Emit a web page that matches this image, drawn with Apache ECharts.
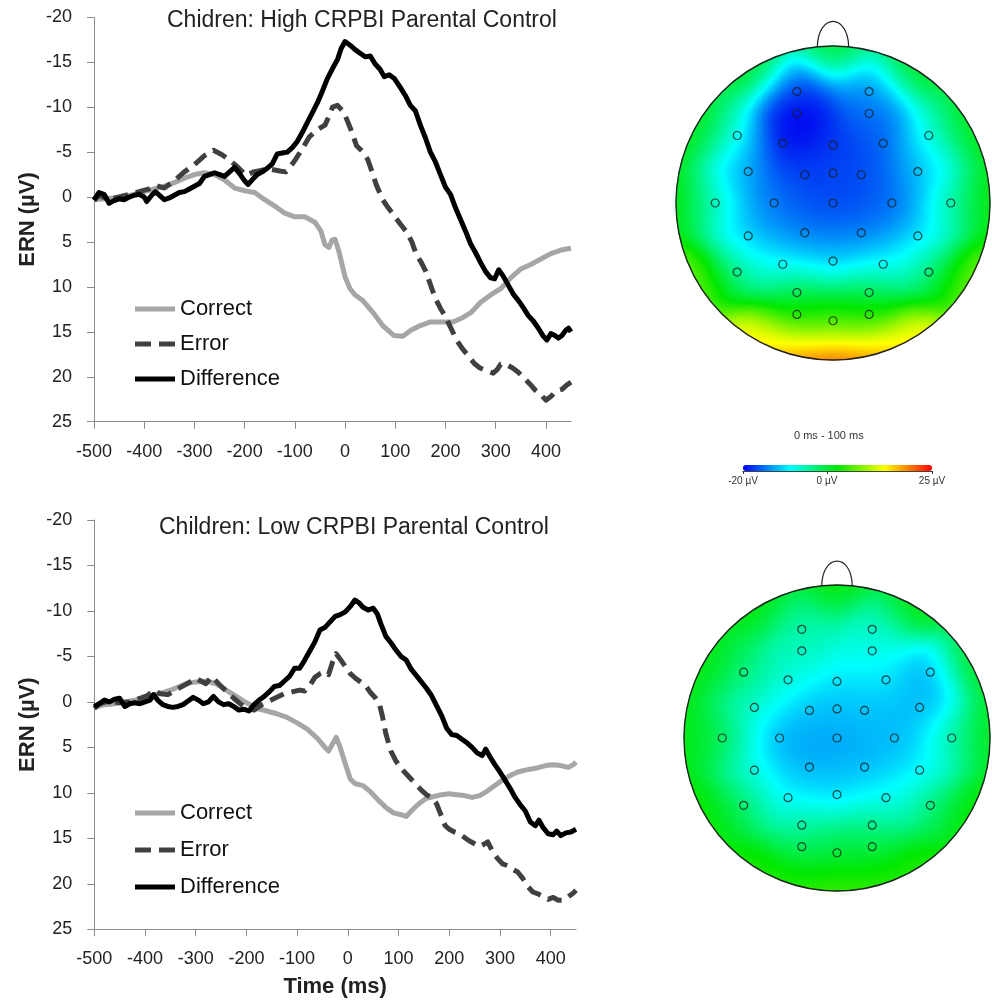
<!DOCTYPE html>
<html lang="en">
<head>
<meta charset="UTF-8">
<title>ERN - CRPBI parental control</title>
<script src="https://cdn.jsdelivr.net/npm/echarts@6/dist/echarts.min.js"></script>
<style>html,body{margin:0;padding:0;background:#fff;}</style>
</head>
<body>
<div id="main" style="width:992px;height:1003px;"></div>
<script>
var FONT = "'Liberation Sans', Arial, sans-serif";

// ---- waveforms: [time ms, amplitude uV] ----
var highCorrect = [[-500,0.3],[-480,0.2],[-460,0.1],[-440,0],[-420,-0.3],[-400,-0.6],[-380,-0.9],[-360,-1.2],[-340,-1.6],[-320,-2.1],[-300,-2.5],[-280,-2.7],[-260,-2.5],[-240,-1.9],[-220,-1.0],[-200,-0.7],[-180,-0.5],[-160,0.3],[-140,1.0],[-120,1.8],[-100,2.2],[-80,2.2],[-60,2.8],[-48,3.8],[-40,5.3],[-32,5.6],[-26,4.8],[-20,4.7],[-12,6.1],[0,8.9],[10,10.2],[20,10.9],[35,11.5],[55,12.8],[75,14.3],[97,15.4],[115,15.5],[132,14.8],[150,14.3],[170,13.9],[190,13.9],[215,13.9],[235,13.4],[250,12.9],[270,11.7],[290,10.9],[310,10.2],[330,9.0],[350,8.0],[370,7.5],[390,6.9],[410,6.3],[430,5.9],[450,5.7]];
var highError = [[-500,0.4],[-490,-0.2],[-470,0.3],[-450,0],[-430,-0.3],[-410,-0.6],[-390,-0.9],[-378,-1.3],[-360,-1.0],[-340,-1.8],[-320,-2.8],[-300,-3.6],[-280,-4.6],[-262,-5.2],[-245,-4.7],[-230,-4.1],[-215,-3.4],[-197,-2.4],[-182,-2.8],[-165,-3.0],[-150,-3.1],[-130,-2.9],[-118,-2.8],[-102,-3.9],[-86,-5.3],[-71,-6.7],[-55,-7.5],[-40,-8.0],[-32,-9.0],[-25,-10.0],[-15,-10.2],[-5,-9.6],[0,-9.1],[11,-7.6],[23,-5.7],[34,-5.1],[45,-4.2],[55,-2.6],[62,-1.4],[74,0.2],[86,1.2],[97,2.0],[110,3.0],[123,3.9],[133,5.0],[142,6.4],[152,7.3],[161,8.3],[171,9.9],[180,11.3],[190,12.4],[199,13.2],[211,14.6],[222,15.9],[234,16.9],[246,17.7],[257,18.5],[268,19.0],[280,19.3],[295,19.6],[303,19.2],[310,18.6],[320,18.6],[333,19.0],[345,19.5],[356,20.1],[368,20.8],[379,21.5],[390,22.0],[400,22.6],[410,22.2],[420,21.6],[432,21.4],[442,20.9],[450,20.6]];
var highDiff = [[-500,0.3],[-490,-0.5],[-480,-0.3],[-470,0.7],[-460,0.4],[-450,0.2],[-440,0.3],[-430,0],[-420,-0.2],[-410,-0.3],[-400,0],[-395,0.5],[-385,-0.2],[-378,-0.6],[-370,-0.2],[-360,0.3],[-350,0.1],[-340,-0.2],[-330,-0.5],[-320,-0.6],[-310,-0.9],[-300,-1.2],[-290,-1.5],[-280,-2.3],[-270,-2.5],[-260,-2.7],[-250,-2.5],[-240,-2.3],[-230,-2.8],[-220,-3.3],[-210,-2.6],[-200,-1.8],[-193,-1.4],[-185,-1.9],[-175,-2.5],[-165,-2.8],[-155,-3.2],[-145,-3.7],[-135,-4.8],[-125,-4.9],[-115,-5.0],[-105,-5.5],[-95,-6.2],[-85,-7.2],[-75,-8.3],[-65,-9.4],[-55,-10.5],[-45,-11.8],[-35,-13.2],[-25,-14.3],[-15,-15.3],[-8,-16.5],[0,-17.3],[10,-16.9],[20,-16.4],[30,-16.0],[40,-15.6],[50,-15.7],[60,-14.8],[70,-14.2],[78,-13.4],[88,-13.6],[98,-13.2],[110,-12.2],[120,-11.3],[130,-10.2],[140,-9.6],[150,-8.0],[160,-6.6],[170,-5.0],[180,-3.9],[190,-2.5],[200,-1.1],[210,-0.3],[220,1.2],[230,2.5],[240,3.8],[250,5.2],[260,6.2],[270,7.3],[280,8.3],[290,9.0],[298,9.1],[306,8.1],[315,8.8],[325,9.8],[335,10.8],[345,11.5],[355,12.3],[365,13.2],[375,13.8],[385,14.6],[395,15.5],[402,15.9],[410,15.2],[418,15.4],[425,15.7],[432,15.4],[440,14.8],[445,14.6],[450,15.0]];

var lowCorrect = [[-500,0.6],[-480,0.3],[-460,0.2],[-440,0],[-420,-0.2],[-400,-0.4],[-380,-0.8],[-360,-1.1],[-340,-1.5],[-320,-2.0],[-300,-2.2],[-280,-2.3],[-260,-2.0],[-240,-1.3],[-220,-0.6],[-200,0.1],[-180,0.7],[-160,1.0],[-140,1.3],[-120,1.7],[-100,2.3],[-80,3.0],[-60,4.0],[-45,5.0],[-38,5.4],[-30,4.6],[-23,3.9],[-15,5.0],[-5,6.8],[5,8.5],[15,9.0],[30,9.2],[45,9.9],[60,10.8],[75,11.6],[90,12.2],[105,12.4],[115,12.6],[125,12.0],[140,11.2],[155,10.6],[170,10.4],[185,10.2],[200,10.1],[215,10.2],[230,10.3],[245,10.5],[260,10.3],[275,9.8],[290,9.2],[305,8.6],[320,8.1],[335,7.7],[350,7.5],[370,7.3],[390,7.0],[405,6.9],[420,7.0],[435,7.2],[445,6.9],[450,6.6]];
var lowError = [[-500,0.7],[-490,0.2],[-470,-0.1],[-450,0.1],[-430,0],[-410,-0.4],[-395,-0.7],[-383,-1.3],[-370,-0.9],[-355,-0.8],[-340,-1.3],[-320,-1.9],[-300,-2.6],[-290,-2.3],[-280,-2.0],[-268,-2.8],[-255,-2.0],[-240,-1.2],[-225,-0.4],[-210,0.3],[-195,0.8],[-185,0.9],[-170,0.3],[-155,-0.1],[-140,-0.5],[-125,-0.9],[-110,-1.1],[-95,-1.3],[-85,-1.2],[-75,-1.8],[-65,-2.7],[-55,-3.1],[-45,-3.3],[-38,-3.0],[-30,-4.4],[-23,-5.3],[-15,-4.7],[-5,-3.9],[5,-3.1],[15,-2.6],[25,-2.2],[35,-1.8],[45,-1.0],[55,-0.4],[62,0.2],[68,1.5],[75,3.5],[85,5.4],[95,6.5],[105,7.3],[115,7.9],[125,8.5],[135,9.1],[145,9.7],[155,10.2],[165,10.5],[175,11.2],[185,12.6],[192,13.6],[200,14.0],[210,14.3],[220,14.5],[230,14.9],[240,15.3],[250,15.6],[260,15.9],[270,15.6],[276,15.4],[285,16.4],[295,17.2],[305,17.8],[315,18.0],[325,18.4],[335,18.7],[345,19.4],[355,20.3],[365,20.9],[375,21.1],[385,21.4],[395,21.7],[405,21.5],[415,21.8],[425,21.8],[435,21.4],[445,21.0],[450,20.7]];
var lowDiff = [[-500,0.5],[-490,0.2],[-480,-0.2],[-470,0],[-460,-0.3],[-450,-0.4],[-440,0.5],[-430,0.2],[-420,0.1],[-410,0.2],[-400,0],[-390,-0.2],[-383,-0.8],[-375,-0.2],[-365,0.3],[-355,0.5],[-345,0.6],[-335,0.5],[-325,0.3],[-315,-0.1],[-305,-0.5],[-295,-0.2],[-285,0.2],[-275,0],[-265,-0.6],[-255,0],[-245,0.3],[-235,0.2],[-225,0.5],[-215,0.9],[-205,0.8],[-195,1.0],[-185,0.3],[-175,-0.2],[-165,-0.6],[-155,-1.1],[-145,-1.7],[-135,-1.8],[-125,-2.3],[-115,-2.8],[-105,-3.7],[-95,-3.7],[-85,-4.6],[-75,-5.6],[-65,-6.6],[-55,-7.9],[-45,-8.2],[-35,-8.8],[-25,-9.4],[-15,-9.6],[-5,-9.9],[5,-10.5],[14,-11.2],[22,-10.9],[30,-10.4],[40,-10.1],[50,-10.3],[58,-9.7],[65,-8.6],[75,-7.2],[85,-6.5],[95,-5.7],[105,-5.0],[115,-4.6],[125,-3.6],[135,-2.9],[145,-2.2],[155,-1.5],[165,-0.7],[175,0.4],[185,1.5],[195,2.9],[205,3.6],[215,3.7],[225,4.1],[235,4.5],[245,5.0],[255,5.6],[265,5.9],[272,5.2],[280,6.0],[290,6.9],[300,7.7],[310,8.6],[320,9.5],[330,10.5],[340,11.3],[350,12.0],[360,13.2],[370,13.6],[377,13.0],[385,13.8],[395,14.5],[405,14.6],[412,14.2],[420,14.7],[430,14.4],[440,14.3],[450,14.0]];

var timeTicks = [-500, -400, -300, -200, -100, 0, 100, 200, 300, 400];

// ---- scalp maps (0 - 100 ms): electrode layout in head units (nose up) ----
var elecX = [-0.23,0.23, -0.23,0.23, -0.61,-0.32,0,0.32,0.61, -0.54,-0.18,0,0.18,0.54, -0.75,-0.375,0,0.375,0.75, -0.54,-0.18,0.18,0.54, -0.61,-0.32,0,0.32,0.61, -0.23,0.23, -0.23,0,0.23];
var elecY = [0.71,0.71, 0.57,0.57, 0.43,0.38,0.37,0.38,0.43, 0.20,0.18,0.19,0.18,0.20, 0,0,0,0,0, -0.21,-0.19,-0.19,-0.21, -0.44,-0.39,-0.37,-0.39,-0.44, -0.57,-0.57, -0.71,-0.75,-0.71];
var highTopo = [-16,-13, -22,-16, -7,-20,-18,-16,-7, -13,-17,-17,-16.5,-12, -6,-15,-17,-16,-5, -12,-15,-15,-11, -3,-10,-11,-10,-2, -1,-1, 4,4,4];
var lowTopo = [-5,-6, -6,-8, -2,-7,-9,-10,-13, -7,-12,-12,-11.5,-12, -1,-13,-13,-12,-5, -8,-12.5,-12,-10, -1,-10,-10,-9,-2, -5,-4, -1,0,0.5];
// values along the scalp edge (angle in degrees, 90 = nose)
var rimAngle = [90, 60, 30, 0, -30, -60, -75, -90, -105, -120, -150, 180, 150, 120];
var highRim = [0, 1, 2, 3, 8, 14, 20, 24, 20, 14, 8, 3, 2, 1];
var lowRim = [2, 2, 2, 2, 3, 4, 5, 6, 5, 4, 3, 2, 2, 2];
var scaleMin = -20, scaleMax = 25;
var scaleTicks = [-20, 0, 25];

var CELL = 0.015;
function scalpField(vals, rim) {
  var px = elecX.slice(), py = elecY.slice(), pv = vals.slice();
  rimAngle.forEach(function (a, i) {
    px.push(Math.cos(a * Math.PI / 180));
    py.push(Math.sin(a * Math.PI / 180));
    pv.push(rim[i]);
  });
  var s2 = 2 * 0.15 * 0.15;
  var out = [];
  var n = Math.ceil(1.03 / CELL);
  for (var i = -n; i <= n; i++) {
    for (var j = -n; j <= n; j++) {
      var x = i * CELL, y = j * CELL;
      if (x * x + y * y > 1.03 * 1.03) continue;
      var sw = 0, s = 0;
      for (var k = 0; k < px.length; k++) {
        var dx = x - px[k], dy = y - py[k];
        var w = Math.exp(-(dx * dx + dy * dy) / s2);
        sw += w; s += w * pv[k];
      }
      out.push([x, y, s / sw]);
    }
  }
  return out;
}

var myChart = echarts.init(document.getElementById('main'));

function wave(name, data, g, color, dashed) {
  return {
    name: name, type: 'line', xAxisIndex: g, yAxisIndex: g,
    data: data, symbol: 'none', showSymbol: false, smooth: false,
    lineStyle: { color: color, width: 5, type: dashed ? [15, 8] : 'solid', cap: 'butt', join: 'round' },
    itemStyle: { color: color }
  };
}

function fieldSeries(g, data) {
  return {
    type: 'custom', xAxisIndex: g, yAxisIndex: g, data: data,
    encode: { x: 0, y: 1 }, silent: true, progressive: 0,
    renderItem: function (params, api) {
      var p = api.coord([api.value(0) - CELL / 2, api.value(1) + CELL / 2]);
      var s = api.size([CELL, CELL]);
      return { type: 'rect', shape: { x: p[0], y: p[1], width: s[0] + 0.7, height: s[1] + 0.7 },
               style: { fill: api.visual('color') } };
    }
  };
}

function headSeries(g) {
  return {
    type: 'custom', xAxisIndex: g, yAxisIndex: g, data: [[0, 0]], silent: true, z: 5,
    renderItem: function (params, api) {
      var c = api.coord([0, 0]);
      var r = api.size([1, 1])[0];
      var a = api.coord([-0.1, 0.995]), b = api.coord([0.1, 0.995]);
      var c1 = api.coord([-0.095, 1.21]), c2 = api.coord([0.095, 1.21]);
      return { type: 'group', children: [
        // white ring hides the stepped edge of the field cells
        { type: 'circle', shape: { cx: c[0], cy: c[1], r: r + 4 }, style: { fill: 'none', stroke: '#fff', lineWidth: 7 } },
        { type: 'circle', shape: { cx: c[0], cy: c[1], r: r }, style: { fill: 'none', stroke: '#222', lineWidth: 1.4 } },
        { type: 'bezierCurve', shape: { x1: a[0], y1: a[1], x2: b[0], y2: b[1], cpx1: c1[0], cpy1: c1[1], cpx2: c2[0], cpy2: c2[1] },
          style: { fill: 'none', stroke: '#222', lineWidth: 1.2 } }
      ] };
    }
  };
}

function electrodeSeries(g) {
  var pts = elecX.map(function (x, i) { return [x, elecY[i]]; });
  return {
    type: 'scatter', xAxisIndex: g, yAxisIndex: g, data: pts, symbol: 'circle', symbolSize: 8, z: 6, silent: true,
    itemStyle: { color: 'rgba(0,0,0,0)', borderColor: '#1e1e1e', borderWidth: 1.2 }
  };
}

var axisGray = '#8c8c8c';
function timeAxis(g, withName) {
  return {
    gridIndex: g, type: 'value', min: -500, max: 450,
    name: withName ? 'Time (ms)' : '', nameLocation: 'middle', nameGap: 47,
    nameTextStyle: { fontSize: 22, fontWeight: 'bold', color: '#222', fontFamily: FONT },
    axisLine: { onZero: false, lineStyle: { color: axisGray, width: 1 } },
    axisTick: { show: true, length: 7, customValues: timeTicks, lineStyle: { color: axisGray } },
    axisLabel: { fontSize: 18, color: '#222', fontFamily: FONT, margin: 21, customValues: timeTicks },
    splitLine: { show: false }
  };
}
function ernAxis(g) {
  return {
    gridIndex: g, type: 'value', inverse: true, min: -20, max: 25, interval: 5,
    name: 'ERN (µV)', nameLocation: 'middle', nameGap: 55, nameRotate: 90,
    nameTextStyle: { fontSize: 22, fontWeight: 'bold', color: '#222', fontFamily: FONT },
    axisLine: { show: true, onZero: false, lineStyle: { color: axisGray, width: 1 } },
    axisTick: { show: true, length: 7, lineStyle: { color: axisGray } },
    axisLabel: { fontSize: 18, color: '#222', fontFamily: FONT, margin: 22 },
    splitLine: { show: false }
  };
}

function legendAt(top, gap) {
  return {
    data: [
      { name: 'Correct', icon: 'rect' },
      { name: 'Error', icon: 'path://M0,0H16V5H0Z M24,0H40V5H24Z' },
      { name: 'Difference', icon: 'rect' }
    ],
    orient: 'vertical', left: 135, top: top, padding: 0,
    itemWidth: 40, itemHeight: 5, itemGap: gap, selectedMode: false,
    textStyle: { fontSize: 22, color: '#111', fontFamily: FONT, lineHeight: 24 }
  };
}

var option = {
  animation: false,
  title: [
    { text: 'Chidren: High CRPBI Parental Control', left: 167, top: 9, padding: 0,
      textStyle: { fontSize: 23, fontWeight: 'normal', color: '#222', fontFamily: FONT } },
    { text: 'Children: Low CRPBI Parental Control', left: 159, top: 516, padding: 0,
      textStyle: { fontSize: 23, fontWeight: 'normal', color: '#222', fontFamily: FONT } },
    { text: '0 ms - 100 ms', left: 794, top: 430, padding: 0,
      textStyle: { fontSize: 11, fontWeight: 'normal', color: '#333', fontFamily: FONT } }
  ],
  legend: [legendAt(297, 11), legendAt(801, 13)],
  grid: [
    { left: 94, top: 17.3, width: 477, height: 404.4 },
    { left: 94.3, top: 520, width: 481.7, height: 409.3 },
    { left: 676, top: 14.6, width: 314, height: 345.4 },
    { left: 684, top: 554.4, width: 306, height: 336.6 },
    { left: 743, top: 465, width: 189, height: 6 }
  ],
  xAxis: [
    timeAxis(0, false), timeAxis(1, true),
    { gridIndex: 2, type: 'value', min: -1, max: 1, show: false },
    { gridIndex: 3, type: 'value', min: -1, max: 1, show: false },
    { gridIndex: 4, type: 'value', min: scaleMin, max: scaleMax,
      axisLine: { show: true, onZero: false, lineStyle: { color: '#444', width: 1 } },
      axisTick: { show: true, length: 3, customValues: scaleTicks, lineStyle: { color: '#333' } },
      axisLabel: { customValues: scaleTicks, fontSize: 10, color: '#333', fontFamily: FONT, margin: 5,
                   formatter: function (v) { return v + ' µV'; } },
      splitLine: { show: false } }
  ],
  yAxis: [
    ernAxis(0), ernAxis(1),
    { gridIndex: 2, type: 'value', min: -1, max: 1.2, show: false },
    { gridIndex: 3, type: 'value', min: -1, max: 1.2, show: false },
    { gridIndex: 4, type: 'value', min: 0, max: 1, show: false }
  ],
  visualMap: {
    type: 'continuous', min: scaleMin, max: scaleMax, dimension: 2, seriesIndex: [6, 9],
    orient: 'horizontal', left: 743, top: 465, itemWidth: 6, itemHeight: 189, padding: 0,
    calculable: false, realtime: false, text: null,
    inRange: { color: ['#0000f0', '#00ffff', '#00e800', '#ffff00', '#ff0000'] }
  },
  series: [
    wave('Correct', highCorrect, 0, '#a6a6a6', false),
    wave('Error', highError, 0, '#404040', true),
    wave('Difference', highDiff, 0, '#000000', false),
    wave('Correct', lowCorrect, 1, '#a6a6a6', false),
    wave('Error', lowError, 1, '#404040', true),
    wave('Difference', lowDiff, 1, '#000000', false),
    fieldSeries(2, scalpField(highTopo, highRim)),
    headSeries(2),
    electrodeSeries(2),
    fieldSeries(3, scalpField(lowTopo, lowRim)),
    headSeries(3),
    electrodeSeries(3)
  ]
};
myChart.setOption(option);
</script>
</body>
</html>
